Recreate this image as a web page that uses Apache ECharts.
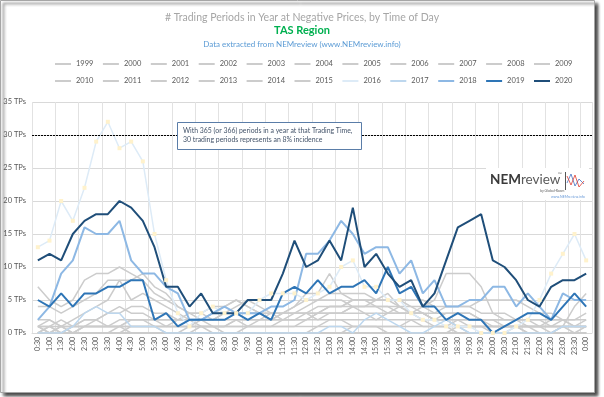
<!DOCTYPE html>
<html>
<head>
<meta charset="utf-8">
<script src="https://cdn.jsdelivr.net/npm/echarts@6/dist/echarts.min.js"></script>
<style>
  * { margin: 0; padding: 0; }
  body { background: #fff; }
  #chart { width: 604px; height: 397px; }
</style>
</head>
<body>
<div id="chart"></div>
<script>
// trading times, half-hourly
var times = ['0:30','1:00','1:30','2:00','2:30','3:00','3:30','4:00','4:30','5:00','5:30','6:00',
  '6:30','7:00','7:30','8:00','8:30','9:00','9:30','10:00','10:30','11:00','11:30','12:00',
  '12:30','13:00','13:30','14:00','14:30','15:00','15:30','16:00','16:30','17:00','17:30','18:00',
  '18:30','19:00','19:30','20:00','20:30','21:00','21:30','22:00','22:30','23:00','23:30','0:00'];

var years = ['1999','2000','2001','2002','2003','2004','2005','2006','2007','2008','2009',
  '2010','2011','2012','2013','2014','2015','2016','2017','2018','2019','2020'];

var yTicks = [0, 5, 10, 15, 20, 25, 30, 35];
var incidenceLine = 30;

// # trading periods at negative prices, per year
var tp1999 = [0,0,0,0,0,0,0,0,0,0,0,0,0,0,0,0,0,0,0,0,0,0,0,0,0,0,0,0,0,0,0,0,0,0,0,0,0,0,0,0,0,0,0,0,0,0,0,0];
var tp2000 = [1,0,0,0,0,0,0,0,0,0,0,0,0,0,0,0,0,0,0,0,0,0,0,0,0,0,0,0,0,0,0,0,0,0,0,0,0,0,0,0,0,0,0,0,0,0,0,0];
var tp2001 = [0,0,0,0,0,0,0,0,0,0,0,0,0,0,1,0,0,0,0,0,0,0,0,0,0,0,0,0,0,0,0,0,0,0,0,0,1,0,0,0,0,0,0,0,0,0,0,0];
var tp2002 = [0,0,1,0,0,0,0,0,0,0,0,0,0,0,0,0,0,0,0,0,0,0,0,0,0,0,0,0,0,0,0,0,0,0,0,0,0,0,0,0,0,1,0,0,0,0,0,0];
var tp2003 = [0,0,0,0,1,1,1,1,0,0,0,0,0,0,0,0,0,0,0,0,0,0,0,0,0,0,0,1,1,1,0,0,0,0,0,0,0,0,0,0,0,0,0,0,0,0,0,0];
var tp2004 = [0,0,0,0,0,0,0,0,0,0,0,0,0,0,0,0,0,0,0,0,0,0,0,0,1,1,1,1,1,1,1,1,1,1,1,1,0,0,0,0,0,0,0,0,0,0,0,0];
var tp2005 = [1,1,0,1,1,1,1,1,2,2,1,1,1,1,1,1,0,0,1,1,1,1,1,1,1,2,2,1,1,1,1,1,2,2,1,1,1,1,1,1,1,1,1,1,1,1,1,1];
var tp2006 = [0,0,0,0,0,0,0,0,1,1,1,1,1,1,1,1,1,1,1,1,1,1,1,2,2,2,2,2,2,2,3,3,3,3,2,2,2,2,2,2,2,2,2,1,1,1,1,1];
var tp2007 = [1,2,1,1,2,2,1,1,2,2,2,2,2,2,2,2,3,3,3,3,2,2,2,3,4,4,4,5,5,5,5,5,5,5,4,4,4,4,3,3,3,2,2,2,2,2,2,3];
var tp2008 = [7,5,4,5,8,9,9,10,9,8,6,5,4,3,3,2,2,2,1,1,1,2,2,2,3,3,3,4,4,4,3,3,3,2,2,2,1,1,1,1,1,1,1,1,1,2,2,2];
var tp2009 = [4,4,3,4,5,6,8,8,8,9,7,6,4,3,2,2,3,3,3,3,2,3,4,5,5,6,6,6,6,5,5,5,4,4,3,3,3,3,2,2,2,2,1,1,1,1,1,1];
var tp2010 = [2,2,1,2,3,4,5,8,5,6,5,4,3,2,2,3,3,4,5,4,3,3,3,4,5,5,5,4,4,5,6,4,3,3,2,3,3,3,2,2,1,1,1,1,2,2,1,1];
var tp2011 = [1,0,0,1,1,1,1,2,2,2,2,1,1,1,1,1,1,2,2,2,2,3,3,3,3,4,4,4,4,4,4,3,3,4,5,9,9,9,7,3,2,2,2,2,1,1,0,0];
var tp2012 = [0,1,0,0,1,1,1,1,1,1,1,1,2,2,1,1,1,2,2,2,3,3,3,3,3,4,4,5,5,4,4,4,4,3,3,4,4,4,5,5,5,5,4,3,3,2,1,1];
var tp2013 = [0,0,1,1,2,2,3,3,4,4,3,3,2,2,2,3,4,5,4,3,3,3,4,6,6,9,6,5,5,5,5,4,3,3,2,2,2,1,1,1,1,1,0,0,0,1,1,2];
var tp2014 = [1,1,1,0,0,0,0,1,1,1,1,0,0,1,2,1,1,1,1,2,2,2,3,3,2,3,3,3,3,2,2,2,2,1,1,1,2,2,2,1,1,1,1,1,0,1,4,6];
var tp2015 = [0,1,2,1,1,2,3,4,3,3,2,2,2,3,3,4,4,5,4,3,3,2,2,2,3,3,3,4,3,3,3,4,3,3,2,2,1,1,1,0,1,1,1,0,0,0,0,1];
var tp2016 = [13,14,20,17,22,29,32,28,29,26,15,8,3,1,3,4,3,3,3,5,6,6,6,5,6,7,10,11,7,7,5,5,3,2,2,1,1,1,0,0,0,1,2,5,9,12,15,11];
var tp2017 = [0,0,0,1,3,4,3,3,1,1,1,0,0,0,0,0,0,0,0,0,0,0,0,0,0,1,1,0,2,3,2,1,0,0,1,2,1,0,0,0,0,0,0,0,0,1,1,1];
var tp2018 = [2,4,9,11,16,15,15,17,11,9,9,7,6,2,2,3,4,3,3,3,4,4,5,12,12,14,17,15,12,13,13,9,11,6,8,4,4,5,5,7,7,4,6,4,2,6,5,5];
var tp2019 = [5,4,6,4,6,6,7,7,8,8,2,3,1,2,2,2,2,3,2,3,2,6,7,6,8,6,7,7,8,6,10,6,7,4,4,2,3,2,2,0,1,2,3,3,2,4,6,4];
var tp2020 = [11,12,11,15,17,18,18,20,19,17,13,7,7,4,6,3,3,3,5,5,5,9,14,10,11,14,11,19,10,12,9,7,8,4,6,11,16,17,18,11,10,8,5,4,7,8,8,9];

var values = [tp1999, tp2000, tp2001, tp2002, tp2003, tp2004, tp2005, tp2006, tp2007, tp2008, tp2009,
  tp2010, tp2011, tp2012, tp2013, tp2014, tp2015, tp2016, tp2017, tp2018, tp2019, tp2020];

var lineColors = {'2016': '#DDEBF7', '2017': '#BDD7EE', '2018': '#8DB8E4', '2019': '#2E75B6', '2020': '#1F4E79'};
var greyColor = '#CCCCCC';
var font = 'Lato';

var series = years.map(function (y, i) {
  var s = {
    name: y,
    type: 'line',
    data: values[i],
    symbol: 'none',
    lineStyle: { color: lineColors[y] || greyColor, width: 1.5 },
    itemStyle: { color: lineColors[y] || greyColor },
    emphasis: { disabled: true },
    silent: true
  };
  if (y === '2016') {
    s.symbol = 'rect';
    s.symbolSize = 4;
    s.itemStyle = { color: '#FFF2CC' };
  }
  if (y >= '2018') s.lineStyle.width = 2;
  if (y === '2020') {
    s.markLine = {
      silent: true,
      symbol: 'none',
      label: { show: false },
      lineStyle: { color: '#000', width: 1, type: [2, 1] },
      data: [{ yAxis: incidenceLine }]
    };
  }
  return s;
});

function legendItems(list) {
  return list.map(function (y) {
    return { name: y, icon: 'rect', itemStyle: { color: lineColors[y] || greyColor } };
  });
}

var legendBase = {
  left: 50, itemWidth: 16, itemHeight: 2, itemGap: 9.5,
  textStyle: { fontSize: 7.5, color: '#595959', fontFamily: font }
};

var chart = echarts.init(document.getElementById('chart'));
chart.setOption({
  animation: false,
  backgroundColor: '#fff',
  textStyle: { fontFamily: font },
  title: [
    { text: '# Trading Periods in Year at Negative Prices, by Time of Day', left: 'center', top: 7,
      textStyle: { fontSize: 10.5, fontWeight: 'normal', color: '#A6A6A6', fontFamily: font } },
    { text: 'TAS Region', left: 'center', top: 20,
      textStyle: { fontSize: 11, fontWeight: 'bold', color: '#00B050', fontFamily: font } },
    { text: 'Data extracted from NEMreview (www.NEMreview.info)', left: 'center', top: 35,
      textStyle: { fontSize: 8, fontWeight: 'normal', color: '#5B9BD5', fontFamily: font } }
  ],
  legend: [
    Object.assign({ data: legendItems(years.slice(0, 11)), top: 55 }, legendBase),
    Object.assign({ data: legendItems(years.slice(11)), top: 72 }, legendBase)
  ],
  grid: { left: 32, right: 12, top: 102, bottom: 64 },
  xAxis: {
    type: 'category',
    data: times,
    boundaryGap: true,
    axisLine: { lineStyle: { color: '#D9D9D9' } },
    axisTick: { show: false },
    axisLabel: { interval: 0, rotate: 90, fontSize: 7, color: '#595959', margin: 4, fontFamily: font },
    splitLine: { show: true, interval: 1, lineStyle: { color: '#E2E2E2' } }
  },
  yAxis: {
    type: 'value',
    min: yTicks[0],
    max: yTicks[yTicks.length - 1],
    interval: 5,
    axisLabel: { formatter: '{value} TPs', fontSize: 7.5, color: '#595959', margin: 6, fontFamily: font },
    splitLine: { lineStyle: { color: '#D9D9D9' } },
    axisLine: { show: false },
    axisTick: { show: false }
  },
  graphic: [
    // chart frame with shadow
    { type: 'rect', z: -10, silent: true, shape: { x: 0.5, y: 0.5, width: 594, height: 392 },
      style: { fill: '#fff', stroke: '#A6A6A6', lineWidth: 1,
        shadowBlur: 3, shadowOffsetX: 3, shadowOffsetY: 3, shadowColor: 'rgba(0,0,0,0.75)' } },
    // annotation box
    { type: 'rect', z: 100, shape: { x: 177.5, y: 122.5, width: 184, height: 27 },
      style: { fill: '#fff', stroke: '#5A7DA8', lineWidth: 1 } },
    { type: 'text', z: 101, left: 183, top: 126,
      style: { text: 'With 365 (or 366) periods in a year at that Trading Time,\n30 trading periods represents an 8% incidence',
        fill: '#44546A', font: '6.9px Lato', lineHeight: 9 } },
    // NEMreview logo
    { type: 'rect', z: 50, shape: { x: 486, y: 168, width: 103, height: 32 }, style: { fill: '#fff' } },
    { type: 'text', z: 51, left: 490, top: 173,
      style: { text: '{a|NEM}{b|review}', rich: {
        a: { font: 'bold 13.5px Lato', fill: '#3A3A3A' },
        b: { font: '13.5px Lato', fill: '#5A5A5A' } } } },
    { type: 'text', z: 51, left: 558, top: 172, style: { text: '™', font: '5px Lato', fill: '#666' } },
    { type: 'text', z: 51, left: 540, top: 189, style: { text: 'by Global-Roam', font: '3.5px Lato', fill: '#666' } },
    { type: 'line', z: 51, shape: { x1: 565.5, y1: 172, x2: 565.5, y2: 190 }, style: { stroke: '#555', lineWidth: 1 } },
    { type: 'polyline', z: 51, shape: { points: [[567, 183], [571, 174], [575, 186], [579, 179], [584, 184]] },
      style: { stroke: '#4472C4', lineWidth: 0.8, fill: null } },
    { type: 'polyline', z: 51, shape: { points: [[567, 176], [571, 185], [575, 175], [579, 187], [584, 181]] },
      style: { stroke: '#E03C31', lineWidth: 0.8, fill: null } },
    { type: 'text', z: 51, left: 551, top: 195, style: { text: 'www.NEMreview.info', font: '3.5px Lato', fill: '#6A9BD8' } }
  ],
  series: series
});
</script>
</body>
</html>
